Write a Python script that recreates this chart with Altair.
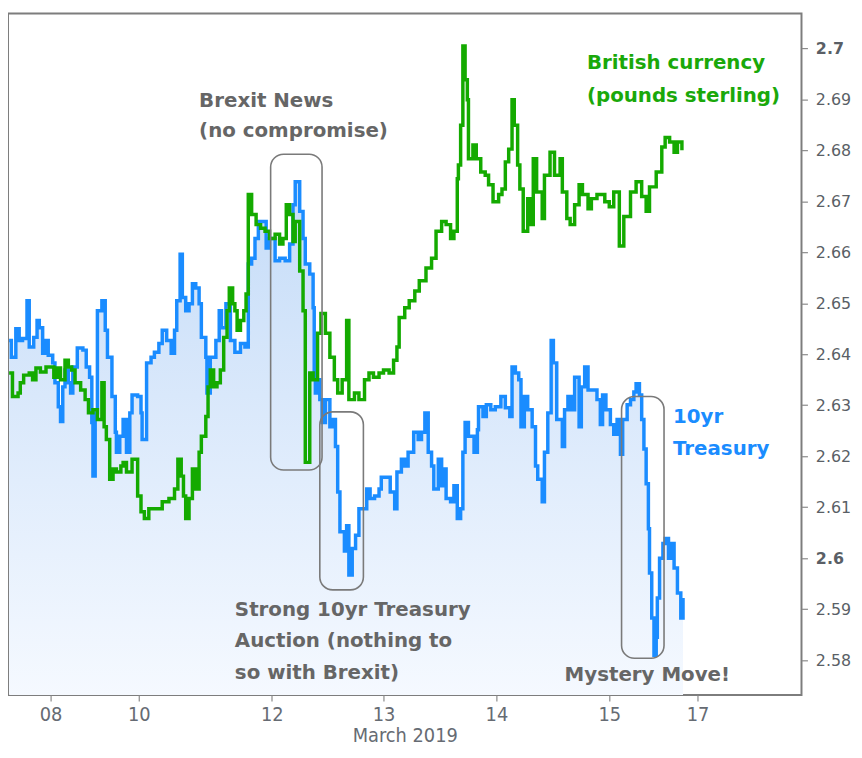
import altair as alt
import pandas as pd

# ---- axis definitions -------------------------------------------------
x_ticks = [0, 0.79, 1.98, 2.98, 3.99, 5.0, 5.79]
x_tick_labels = ["08", "10", "12", "13", "14", "15", "17"]
y_ticks = [2.58, 2.59, 2.6, 2.61, 2.62, 2.63, 2.64, 2.65, 2.66, 2.67, 2.68, 2.69, 2.7]
y_bold_ticks = [2.6, 2.7]
x_domain = [-0.38, 6.72]
y_domain = [2.5732, 2.7068]

# ---- 10yr Treasury yield (blue) --------------------------------------
treasury_t = [-0.37, -0.35, -0.31, -0.28, -0.25, -0.21, -0.19, -0.15, -0.12, -0.10,
              -0.07, -0.04, -0.02, 0.02, 0.04, 0.07, 0.09, 0.11, 0.13, 0.16,
              0.18, 0.20, 0.24, 0.29, 0.32, 0.35, 0.37, 0.38, 0.40, 0.42,
              0.46, 0.49, 0.51, 0.55, 0.58, 0.59, 0.62, 0.65, 0.68, 0.71,
              0.73, 0.78, 0.81, 0.82, 0.86, 0.90, 0.93, 0.97, 1.00, 1.04,
              1.08, 1.11, 1.13, 1.16, 1.18, 1.21, 1.24, 1.27, 1.30, 1.33,
              1.35, 1.39, 1.40, 1.43, 1.48, 1.51, 1.53, 1.57, 1.61, 1.65,
              1.70, 1.74, 1.77, 1.80, 1.83, 1.86, 1.90, 1.93, 1.96, 2.01,
              2.05, 2.10, 2.14, 2.17, 2.19, 2.23, 2.26, 2.28, 2.32, 2.35,
              2.36, 2.37, 2.39, 2.41, 2.43, 2.46, 2.50, 2.52, 2.55, 2.57,
              2.59, 2.63, 2.65, 2.67, 2.70, 2.73, 2.76, 2.81, 2.83, 2.86,
              2.90, 2.94, 2.96, 3.01, 3.04, 3.08, 3.10, 3.14, 3.17, 3.20,
              3.25, 3.29, 3.32, 3.35, 3.38, 3.41, 3.43, 3.47, 3.50, 3.51,
              3.54, 3.58, 3.61, 3.64, 3.67, 3.69, 3.71, 3.74, 3.79, 3.82,
              3.83, 3.87, 3.90, 3.94, 3.98, 4.03, 4.07, 4.11, 4.13, 4.16,
              4.19, 4.21, 4.24, 4.27, 4.31, 4.34, 4.36, 4.40, 4.42, 4.45,
              4.48, 4.50, 4.53, 4.58, 4.60, 4.63, 4.66, 4.69, 4.73, 4.75,
              4.78, 4.81, 4.85, 4.89, 4.92, 4.94, 4.97, 5.01, 5.04, 5.07,
              5.10, 5.12, 5.16, 5.19, 5.22, 5.24, 5.27, 5.29, 5.31, 5.33,
              5.35, 5.36, 5.38, 5.40, 5.42, 5.43, 5.45, 5.48, 5.50, 5.53,
              5.56, 5.58, 5.61, 5.64, 5.66]
treasury_v = [2.6427, 2.6394, 2.6450, 2.6427, 2.6431, 2.6505, 2.6414, 2.6433, 2.6466, 2.6452,
              2.6402, 2.6427, 2.6398, 2.6383, 2.6344, 2.6297, 2.6268, 2.6336, 2.6369, 2.6344,
              2.6324, 2.6375, 2.6412, 2.6408, 2.6375, 2.6355, 2.6266, 2.6161, 2.6285, 2.6485,
              2.6505, 2.6447, 2.6394, 2.6317, 2.6247, 2.6208, 2.6239, 2.6272, 2.6208, 2.6285,
              2.6320, 2.6317, 2.6285, 2.6233, 2.6383, 2.6394, 2.6404, 2.6421, 2.6447, 2.6427,
              2.6402, 2.6447, 2.6505, 2.6596, 2.6511, 2.6485, 2.6499, 2.6538, 2.6530, 2.6499,
              2.6433, 2.6394, 2.6324, 2.6394, 2.6427, 2.6485, 2.6452, 2.6499, 2.6427, 2.6404,
              2.6421, 2.6414, 2.6577, 2.6588, 2.6627, 2.6660, 2.6660, 2.6608, 2.6627, 2.6583,
              2.6588, 2.6583, 2.6616, 2.6693, 2.6738, 2.6680, 2.6627, 2.6577, 2.6557, 2.6491,
              2.6363, 2.6324, 2.6350, 2.6311, 2.6266, 2.6311, 2.6258, 2.6272, 2.6219, 2.6130,
              2.6052, 2.6014, 2.6064, 2.5967, 2.6019, 2.6045, 2.6097, 2.6097, 2.6136, 2.6117,
              2.6122, 2.6136, 2.6159, 2.6159, 2.6130, 2.6097, 2.6169, 2.6194, 2.6181, 2.6208,
              2.6247, 2.6233, 2.6247, 2.6285, 2.6208, 2.6181, 2.6136, 2.6194, 2.6142, 2.6175,
              2.6117, 2.6111, 2.6142, 2.6078, 2.6097, 2.6208, 2.6266, 2.6239, 2.6208, 2.6252,
              2.6297, 2.6278, 2.6301, 2.6291, 2.6297, 2.6317, 2.6295, 2.6278, 2.6375, 2.6363,
              2.6350, 2.6258, 2.6317, 2.6291, 2.6258, 2.6181, 2.6155, 2.6111, 2.6208, 2.6285,
              2.6427, 2.6383, 2.6272, 2.6219, 2.6291, 2.6317, 2.6291, 2.6355, 2.6258, 2.6336,
              2.6375, 2.6330, 2.6330, 2.6311, 2.6262, 2.6320, 2.6291, 2.6262, 2.6243, 2.6272,
              2.6204, 2.6272, 2.6301, 2.6311, 2.6326, 2.6342, 2.6320, 2.6272, 2.6214, 2.6146,
              2.6058, 2.5971, 2.5883, 2.5810, 2.5845, 2.5922, 2.6000, 2.6029, 2.6039, 2.6000,
              2.6029, 2.5981, 2.5932, 2.5883, 2.5922]

# ---- British pound (green, plotted on the same right axis) -----------
gbp_t = [-0.37, -0.34, -0.29, -0.27, -0.24, -0.19, -0.16, -0.13, -0.09, -0.04,
         -0.01, 0.03, 0.06, 0.09, 0.13, 0.16, 0.19, 0.22, 0.27, 0.31,
         0.34, 0.38, 0.42, 0.46, 0.48, 0.50, 0.53, 0.56, 0.59, 0.63,
         0.65, 0.68, 0.73, 0.75, 0.78, 0.81, 0.84, 0.88, 0.95, 1.00,
         1.06, 1.11, 1.14, 1.17, 1.19, 1.21, 1.24, 1.27, 1.30, 1.33,
         1.35, 1.39, 1.41, 1.43, 1.46, 1.49, 1.52, 1.55, 1.58, 1.60,
         1.63, 1.65, 1.67, 1.70, 1.73, 1.75, 1.77, 1.80, 1.84, 1.88,
         1.92, 1.96, 2.01, 2.05, 2.08, 2.11, 2.14, 2.17, 2.19, 2.23,
         2.26, 2.28, 2.32, 2.35, 2.39, 2.42, 2.46, 2.50, 2.54, 2.57,
         2.61, 2.65, 2.67, 2.72, 2.76, 2.81, 2.85, 2.89, 2.94, 2.98,
         3.03, 3.07, 3.10, 3.12, 3.17, 3.21, 3.26, 3.30, 3.36, 3.41,
         3.45, 3.50, 3.54, 3.58, 3.61, 3.64, 3.65, 3.67, 3.69, 3.71,
         3.73, 3.74, 3.78, 3.81, 3.85, 3.89, 3.92, 3.96, 4.01, 4.04,
         4.07, 4.10, 4.13, 4.15, 4.18, 4.20, 4.23, 4.27, 4.29, 4.32,
         4.35, 4.40, 4.42, 4.47, 4.51, 4.56, 4.58, 4.62, 4.65, 4.69,
         4.73, 4.76, 4.81, 4.84, 4.89, 4.96, 5.00, 5.04, 5.09, 5.13,
         5.19, 5.24, 5.29, 5.33, 5.36, 5.42, 5.47, 5.50, 5.54, 5.58,
         5.61, 5.65]
gbp_v = [2.6363, 2.6317, 2.6324, 2.6344, 2.6359, 2.6363, 2.6350, 2.6373, 2.6365, 2.6375,
         2.6375, 2.6355, 2.6373, 2.6350, 2.6388, 2.6375, 2.6369, 2.6344, 2.6330, 2.6311,
         2.6285, 2.6291, 2.6272, 2.6344, 2.6258, 2.6233, 2.6155, 2.6175, 2.6169, 2.6181,
         2.6188, 2.6169, 2.6194, 2.6194, 2.6122, 2.6091, 2.6078, 2.6097, 2.6097, 2.6111,
         2.6117, 2.6136, 2.6194, 2.6161, 2.6122, 2.6078, 2.6117, 2.6175, 2.6136, 2.6208,
         2.6239, 2.6278, 2.6336, 2.6369, 2.6336, 2.6344, 2.6369, 2.6433, 2.6485, 2.6530,
         2.6499, 2.6485, 2.6447, 2.6466, 2.6485, 2.6518, 2.6713, 2.6674, 2.6654, 2.6647,
         2.6641, 2.6627, 2.6635, 2.6616, 2.6627, 2.6693, 2.6674, 2.6621, 2.6660, 2.6563,
         2.6485, 2.6188, 2.6363, 2.6350, 2.6441, 2.6480, 2.6441, 2.6394, 2.6350, 2.6324,
         2.6350, 2.6466, 2.6311, 2.6324, 2.6311, 2.6350, 2.6363, 2.6355, 2.6363, 2.6369,
         2.6363, 2.6388, 2.6414, 2.6472, 2.6491, 2.6505, 2.6524, 2.6544, 2.6569, 2.6588,
         2.6641, 2.6660, 2.6654, 2.6627, 2.6641, 2.6744, 2.6771, 2.6849, 2.7004, 2.6938,
         2.6899, 2.6783, 2.6810, 2.6783, 2.6757, 2.6751, 2.6732, 2.6699, 2.6713, 2.6724,
         2.6777, 2.6802, 2.6899, 2.6849, 2.6771, 2.6724, 2.6641, 2.6705, 2.6654, 2.6783,
         2.6718, 2.6666, 2.6751, 2.6796, 2.6751, 2.6783, 2.6718, 2.6666, 2.6654, 2.6693,
         2.6732, 2.6713, 2.6685, 2.6705, 2.6713, 2.6699, 2.6689, 2.6718, 2.6612, 2.6670,
         2.6718, 2.6738, 2.6709, 2.6680, 2.6728, 2.6757, 2.6806, 2.6825, 2.6816, 2.6796,
         2.6816, 2.6800]

# ---- annotations -------------------------------------------------------
note_text = ["British currency", "(pounds sterling)", "Brexit News", "(no compromise)",
             "10yr", "Treasury", "Strong 10yr Treasury", "Auction (nothing to",
             "so with Brexit)", "Mystery Move!"]
note_t = [4.80, 4.80, 1.33, 1.33, 5.57, 5.57, 1.65, 1.65, 1.65, 4.60]
note_v = [2.6971, 2.6907, 2.6897, 2.6837, 2.6276, 2.6214, 2.5899, 2.5837, 2.5775, 2.5771]
note_color = ["#1aa80a", "#1aa80a", "#666666", "#666666", "#1a8cff", "#1a8cff",
              "#666666", "#666666", "#666666", "#666666"]

box_t1 = [1.97, 2.41, 5.11]
box_t2 = [2.43, 2.80, 5.49]
box_v1 = [2.6792, 2.6287, 2.6317]
box_v2 = [2.6173, 2.5938, 2.5804]

# ---- build -------------------------------------------------------------
treasury = pd.DataFrame({"t": treasury_t, "v": treasury_v})
gbp = pd.DataFrame({"t": gbp_t, "v": gbp_v})
notes = pd.DataFrame({"t": note_t, "v": note_v, "text": note_text, "color": note_color})
boxes = pd.DataFrame({"t": box_t1, "t2": box_t2, "v": box_v1, "v2": box_v2})

mids = [(a + b) / 2 for a, b in zip(x_ticks[:-1], x_ticks[1:])]
label_expr = ""
for m, lab in zip(mids, x_tick_labels[:-1]):
    label_expr += f"datum.value < {m} ? '{lab}' : "
label_expr += f"'{x_tick_labels[-1]}'"

bold_test = " || ".join(f"abs(datum.value - {b}) < 0.0001" for b in y_bold_ticks)

narrow = "Liberation Sans Narrow, DejaVu Sans Condensed, sans-serif"
xscale = alt.Scale(domain=x_domain, nice=False, zero=False)
yscale = alt.Scale(domain=y_domain, nice=False, zero=False)

x_axis = alt.Axis(values=x_ticks, labelExpr=label_expr, title="March 2019", grid=False,
                  domain=False, tickColor="#8a8a8a", tickSize=6, tickWidth=1.2,
                  labelFont=narrow, labelFontSize=20, labelColor="#666b73",
                  labelPadding=4, titleFont=narrow, titleFontSize=20,
                  titleFontWeight="normal", titleColor="#666b73", titlePadding=1)
y_axis = alt.Axis(orient="right", values=y_ticks, format="~g", grid=False, domain=False,
                  tickColor="#8a8a8a", tickSize=6, tickWidth=1.2,
                  labelFont="DejaVu Sans", labelFontSize=16, labelColor="#5a5f66",
                  labelPadding=8, title=None,
                  labelFontWeight=alt.ExprRef(f"({bold_test}) ? 'bold' : 'normal'"))

X = alt.X("t:Q", scale=xscale, axis=x_axis)
Y = alt.Y("v:Q", scale=yscale, axis=y_axis)

area = alt.Chart(treasury).mark_area(
    interpolate="step-after", clip=True,
    color=alt.Gradient(gradient="linear",
                       stops=[alt.GradientStop(color="#c5dcf8", offset=0),
                              alt.GradientStop(color="#f5f9ff", offset=1)],
                       x1=1, x2=1, y1=0, y2=1)
).encode(x=X, y=Y, y2=alt.datum(y_domain[0]))

blue_line = alt.Chart(treasury).mark_line(
    interpolate="step-after", color="#1a8cff", strokeWidth=3.5, clip=True
).encode(x=X, y=Y)

green_line = alt.Chart(gbp).mark_line(
    interpolate="step-after", color="#14aa00", strokeWidth=3.5, clip=True
).encode(x=X, y=Y)

box_marks = alt.Chart(boxes).mark_rect(
    cornerRadius=13, fillOpacity=0, stroke="#7a7a7a", strokeWidth=1.6
).encode(x=X, x2="t2:Q", y=Y, y2="v2:Q")

text_marks = alt.Chart(notes).mark_text(
    align="left", baseline="middle", font="DejaVu Sans", fontSize=20, fontWeight="bold"
).encode(x=X, y=Y, text="text:N", color=alt.Color("color:N", scale=None))

chart = alt.layer(area, blue_line, green_line, box_marks, text_marks).properties(
    width=801, height=688,
    autosize=alt.AutoSizeParams(type="none"),
    padding={"left": 0, "top": 2, "right": 53, "bottom": 48},
).configure_view(stroke="#7d7d7d", strokeWidth=2)

chart.save("out.html", embed_options={"renderer": "svg", "actions": False})
